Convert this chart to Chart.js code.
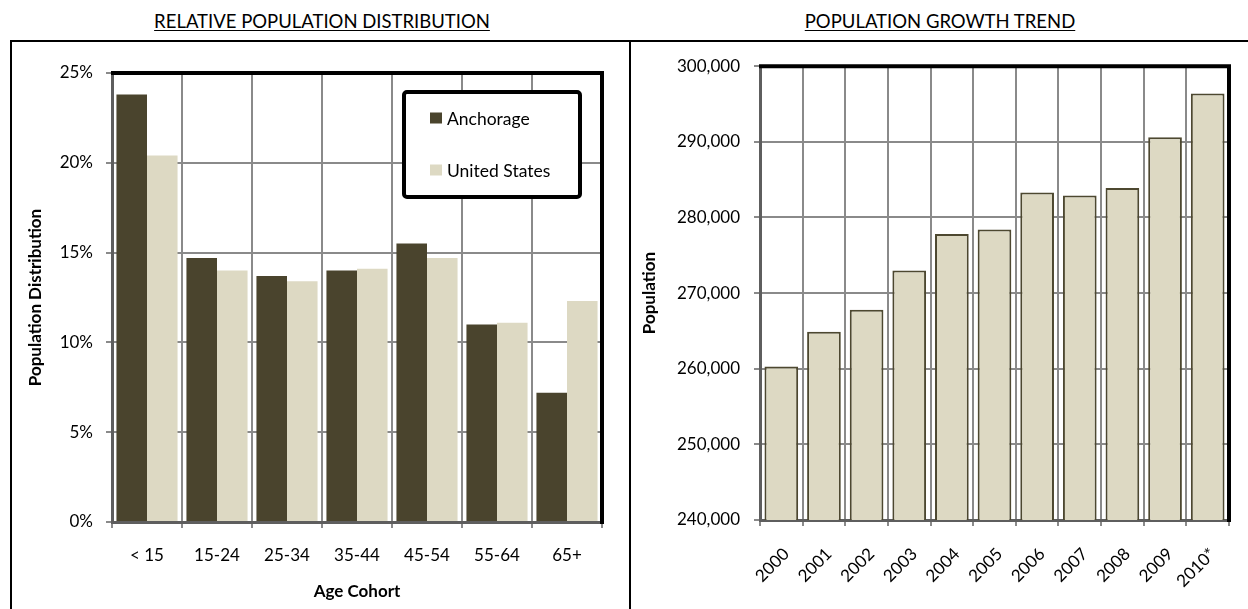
<!DOCTYPE html>
<html>
<head>
<meta charset="utf-8">
<title>Anchorage Population</title>
<script src="https://cdn.jsdelivr.net/npm/chart.js@4.4.1/dist/chart.umd.min.js"></script>
<style>
  html, body { margin: 0; padding: 0; background: #fff; }
  body { width: 1248px; height: 609px; overflow: hidden; position: relative; font-family: Lato, "Open Sans", sans-serif; }
  .title { position: absolute; top: 10px; font-size: 18.5px; color: #000; white-space: nowrap;
           text-decoration: underline; text-underline-offset: 2px; transform: translateX(-50%); }
  .panel { position: absolute; top: 40px; height: 640px; border: 2px solid #000; box-sizing: border-box; }
  .panel canvas { position: absolute; left: 0; top: 0; }
</style>
</head>
<body>
<div class="title" style="left:322px">RELATIVE POPULATION DISTRIBUTION</div>
<div class="title" style="left:940px">POPULATION GROWTH TREND</div>
<div class="panel" style="left:10px;width:621px"><canvas id="dist" width="617" height="567" style="width:617px;height:567px"></canvas></div>
<div class="panel" style="left:629px;width:720px"><canvas id="growth" width="617" height="567" style="width:617px;height:567px"></canvas></div>

<script>
// ---- Age distribution (percent of population) ----
const ageCohorts = ['< 15', '15-24', '25-34', '35-44', '45-54', '55-64', '65+'];
const anchorageShare = [23.8, 14.7, 13.7, 14.0, 15.5, 11.0, 7.2];
const usShare = [20.4, 14.0, 13.4, 14.1, 14.7, 11.1, 12.3];
const shareTicks = [0, 5, 10, 15, 20, 25];

// ---- Anchorage population by year ----
const years = ['2000', '2001', '2002', '2003', '2004', '2005', '2006', '2007', '2008', '2009', '2010*'];
const population = [260300, 264900, 267800, 273000, 277800, 278400, 283300, 282900, 283900, 290600, 296400];
const populationTicks = [240000, 250000, 260000, 270000, 280000, 290000, 300000];

const DARK = '#4a442d';
const LIGHT = '#ddd9c3';
const GRID = '#8a8a8a';
const AXIS = '#5e5e5e';
const FONT = 'Lato, "Open Sans", sans-serif';

Chart.defaults.font.family = FONT;
Chart.defaults.color = '#000';

// Thick black frame along the top and right edges of the plot area
const plotFrame = {
  id: 'plotFrame',
  afterDatasetsDraw(chart) {
    const { ctx, chartArea: a } = chart;
    ctx.save();
    ctx.strokeStyle = '#000';
    ctx.lineWidth = 4;
    ctx.lineCap = 'square';
    ctx.beginPath();
    ctx.moveTo(a.left + 1, a.top);
    ctx.lineTo(a.right, a.top);
    ctx.lineTo(a.right, a.bottom);
    ctx.stroke();
    ctx.restore();
  }
};

// Boxed legend placed inside the plot area, built from the dataset labels/colours
const insetLegend = {
  id: 'insetLegend',
  afterDatasetsDraw(chart, args, opts) {
    if (!opts || !opts.display) return;
    const { ctx, chartArea: a } = chart;
    const x = a.left + opts.offsetLeft, y = a.top + opts.offsetTop;
    const w = opts.width, h = opts.height;
    ctx.save();
    ctx.fillStyle = '#fff';
    ctx.strokeStyle = '#000';
    ctx.lineWidth = 4;
    ctx.beginPath();
    ctx.roundRect(x, y, w, h, 3);
    ctx.fill();
    ctx.stroke();
    ctx.font = '17.5px ' + FONT;
    ctx.textBaseline = 'middle';
    chart.data.datasets.forEach((ds, i) => {
      const cy = y + opts.firstRow + i * opts.rowGap;
      ctx.fillStyle = ds.backgroundColor;
      ctx.fillRect(x + opts.swatchX, cy - 5.5, 12, 11);
      ctx.fillStyle = '#000';
      ctx.fillText(ds.label, x + opts.textX, cy + 1);
    });
    ctx.restore();
  }
};

// Left: relative population distribution
new Chart(document.getElementById('dist'), {
  type: 'bar',
  data: {
    labels: ageCohorts,
    datasets: [
      { label: 'Anchorage', data: anchorageShare, backgroundColor: DARK,
        categoryPercentage: 0.873, barPercentage: 1.0 },
      { label: 'United States', data: usShare, backgroundColor: LIGHT,
        categoryPercentage: 0.873, barPercentage: 1.0 }
    ]
  },
  options: {
    responsive: false,
    animation: false,
    layout: { padding: { left: 0, top: 31, right: 27, bottom: 0 } },
    plugins: {
      legend: { display: false },
      tooltip: { enabled: false },
      insetLegend: { display: true, offsetLeft: 292, offsetTop: 19, width: 176, height: 105,
                     swatchX: 26, textX: 43, firstRow: 26, rowGap: 52 }
    },
    scales: {
      x: {
        afterFit(scale) { scale.height = 87; },
        grid: { color: GRID, lineWidth: 2, tickLength: 6, tickColor: GRID },
        border: { color: AXIS, width: 3 },
        ticks: { font: { size: 17 }, padding: 17, color: '#000' },
        title: { display: true, text: 'Age Cohort', font: { size: 17, weight: 'bold' },
                 padding: { top: 0, bottom: 7 }, color: '#000' }
      },
      y: {
        min: 0, max: 25,
        afterFit(scale) { scale.width = 100; },
        afterBuildTicks(scale) { scale.ticks = shareTicks.map(v => ({ value: v })); },
        grid: { color: GRID, lineWidth: 2, tickLength: 6, tickColor: GRID },
        border: { color: AXIS, width: 3 },
        ticks: { font: { size: 17 }, padding: 13, color: '#000', callback: v => v + '%' },
        title: { display: true, text: 'Population Distribution', font: { size: 17, weight: 'bold' },
                 padding: { top: 13, bottom: 0 }, color: '#000' }
      }
    }
  },
  plugins: [insetLegend, plotFrame]
});

// Right: population growth trend
new Chart(document.getElementById('growth'), {
  type: 'bar',
  data: {
    labels: years,
    datasets: [
      { label: 'Population', data: population, backgroundColor: LIGHT, borderColor: '#4d4830',
        borderWidth: 2, categoryPercentage: 0.79, barPercentage: 1.0 }
    ]
  },
  options: {
    responsive: false,
    animation: false,
    layout: { padding: { left: 0, top: 24, right: 19, bottom: 0 } },
    plugins: { legend: { display: false }, tooltip: { enabled: false } },
    scales: {
      x: {
        afterFit(scale) { scale.height = 89; },
        grid: { color: GRID, lineWidth: 2, tickLength: 6, tickColor: GRID },
        border: { color: AXIS, width: 3 },
        ticks: { font: { size: 17 }, padding: 18, labelOffset: 5, color: '#000',
                 minRotation: 45, maxRotation: 45 }
      },
      y: {
        min: 240000, max: 300000,
        afterFit(scale) { scale.width = 129; },
        afterBuildTicks(scale) { scale.ticks = populationTicks.map(v => ({ value: v })); },
        grid: { color: GRID, lineWidth: 2, tickLength: 6, tickColor: GRID },
        border: { color: AXIS, width: 3 },
        ticks: { font: { size: 17 }, padding: 14, color: '#000',
                 callback: v => Number(v).toLocaleString('en-US') },
        title: { display: true, text: 'Population', font: { size: 17, weight: 'bold' },
                 padding: { top: 8, bottom: 0 }, color: '#000' }
      }
    }
  },
  plugins: [plotFrame]
});
</script>
</body>
</html>
